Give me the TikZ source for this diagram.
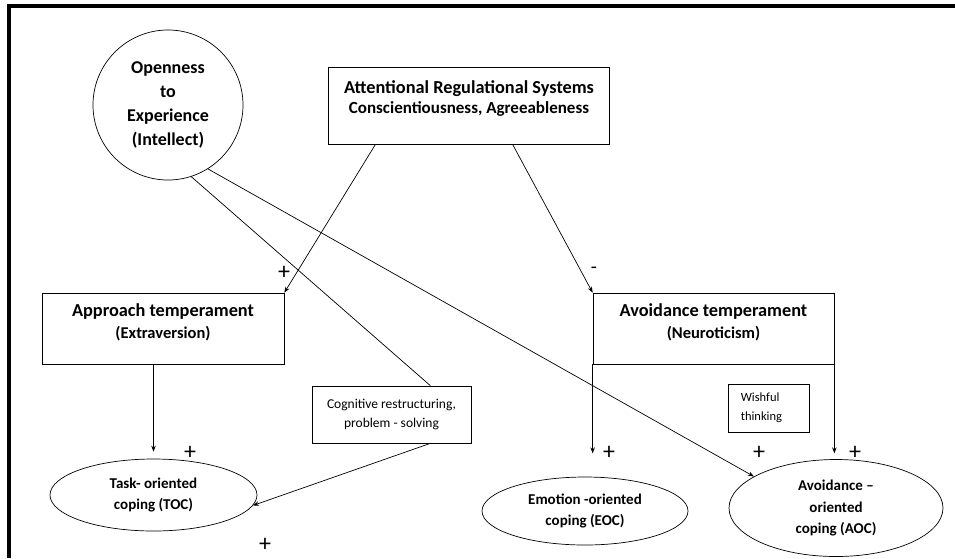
\documentclass[tikz,border=0pt]{standalone}
\usepackage{fontspec}
\setmainfont{Carlito}
\usetikzlibrary{arrows.meta, positioning, calc, shapes.geometric}

\tikzset{
  box/.style={draw, line width=0.7pt, rectangle, inner sep=0pt},
  oval/.style={draw, line width=0.7pt, ellipse, inner sep=0pt, align=center, font=\fontsize{15}{21.5}\selectfont\bfseries},
  title/.style={font=\fontsize{18.3}{20}\selectfont\bfseries},
  subtitle/.style={font=\fontsize{17}{19}\selectfont\bfseries},
  small/.style={font=\fontsize{13.5}{19}\selectfont, align=center},
  sign/.style={font=\fontsize{24}{24}\selectfont, inner sep=0pt},
  link/.style={line width=0.7pt},
  arr/.style={line width=0.7pt, -{Stealth[length=6pt, width=4.5pt]}},
}

\begin{document}
\begin{tikzpicture}[x=1pt, y=-1pt]
\useasboundingbox (0,0) rectangle (955,558);
% outer frame (cut off at right and bottom)
\draw[line width=4pt] (9,558) -- (9,6) -- (955,6);

% top row
\node[draw, circle, line width=0.7pt, minimum size=150pt, inner sep=0pt, align=center,
      font=\fontsize{18}{24}\selectfont\bfseries] (open) at (168,105)
      {Openness\\to\\Experience\\(Intellect)};
\node[box, minimum width=281pt, minimum height=77pt] (ars) at (469,106) {};
\node[title] (ars-title) at ($(ars.north)+(0,21)$) {Attentional Regulational Systems};
\node[subtitle] (ars-sub) at ($(ars.north)+(0,42)$) {Conscientiousness, Agreeableness};

% temperaments
\node[box, minimum width=242pt, minimum height=71pt] (app) at (163,328.5) {};
\node[title] (app-title) at ($(app.north)+(0,19)$) {Approach temperament};
\node[subtitle, font=\fontsize{16.5}{19}\selectfont\bfseries] (app-sub) at ($(app.north)+(0,41)$) {(Extraversion)};
\node[box, minimum width=241pt, minimum height=71pt] (avo) at (713.5,328.5) {};
\node[title] (avo-title) at ($(avo.north)+(0,19)$) {Avoidance temperament};
\node[subtitle, font=\fontsize{16.5}{19}\selectfont\bfseries] (avo-sub) at ($(avo.north)+(0,41)$) {(Neuroticism)};

% strategies
\node[box, minimum width=159pt, minimum height=57pt, small] (cog) at (391.5,414.5)
      {Cognitive restructuring,\\problem - solving};
\node[box, minimum width=81pt, minimum height=48pt] (wish) at (768.5,408) {};
\node[small, align=left, anchor=west, inner sep=0pt,
      font=\fontsize{12.5}{19}\selectfont] (wish-text) at ($(wish.west)+(13,0)$) {Wishful\\thinking};

% coping styles
\node[oval, minimum width=207pt, minimum height=72pt] (toc) at (153.5,495) {Task- oriented\\coping (TOC)};
\node[oval, minimum width=206pt, minimum height=68pt] (eoc) at (585,511) {Emotion -oriented\\coping (EOC)};
\node[oval, minimum width=214pt, minimum height=97pt] (aoc) at (836,508) {Avoidance --\\oriented\\coping (AOC)};

% connectors
\draw[arr] ($(ars.south west)+(47,0)$) -- (app.north east);
\draw[arr] ($(ars.south east)+(-97,0)$) -- (avo.north west);
\draw[link] (open.-72) -- ($(cog.north east)+(-41,0)$);
\draw[arr] (open.-58) -- (aoc.159);
\draw[arr] ($(cog.south east)+(-41,0)$) -- (toc.-6);
\draw[arr, shorten >=7pt] (app.south -| toc.north) -- (toc.north);
\draw[arr] (avo.south west) -- ++(0,89);
\draw[arr] (avo.south east) -- ++(0,89);

% signs
\node[sign] (s1) at (284,273) {+};
\node[sign, font=\fontsize{20}{20}\selectfont] (s2) at (594,270) {-};
\node[sign] (s3) at (190,453) {+};
\node[sign] (s4) at (265,545) {+};
\node[sign] (s5) at (609,453) {+};
\node[sign] (s6) at (759,453) {+};
\node[sign] (s7) at (855,453) {+};
\end{tikzpicture}
\end{document}
